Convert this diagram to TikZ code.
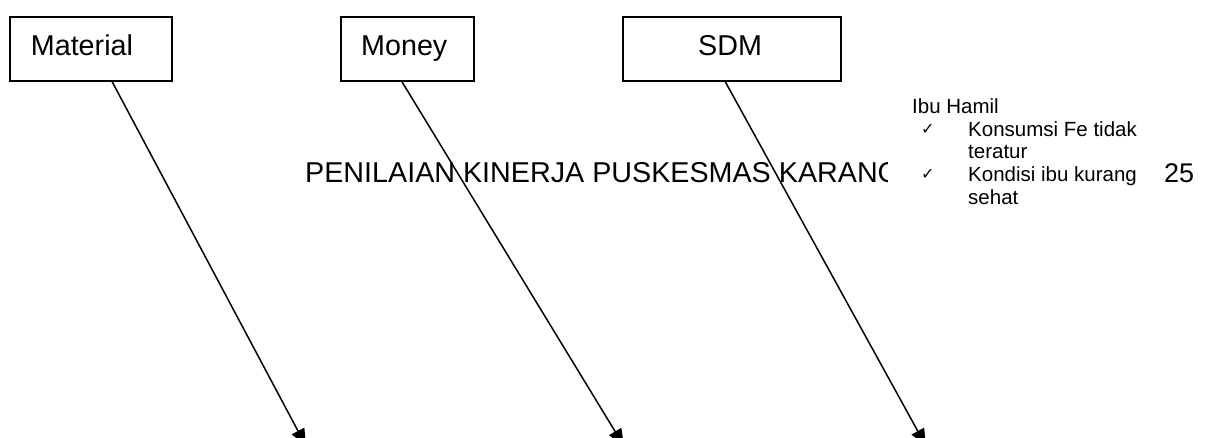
\documentclass[tikz,border=0pt]{standalone}
\usepackage{fontspec}
\setmainfont{Liberation Sans}
\newfontfamily\symfont{DejaVu Sans}
\usetikzlibrary{arrows.meta,calc}
\begin{document}
\begin{tikzpicture}[x=1pt,y=-1pt,
  box/.style={draw,line width=1.8pt,inner sep=0pt,anchor=north west},
  lbl/.style={inner sep=0pt,anchor=base west,font=\fontsize{28.7}{34}\selectfont},
  item/.style={inner sep=0pt,anchor=base west,font=\fontsize{20.5}{24}\selectfont},
  tick/.style={inner sep=0pt,anchor=base west,font=\symfont\fontsize{16}{18}\selectfont},
  arr/.style={line width=1.5pt,-{Triangle[length=17pt,width=14pt]}}]
\useasboundingbox (0,0) rectangle (1215,437);

% source boxes
\node[box,minimum width=162pt,minimum height=64pt] (mat) at (9,16) {};
\node[lbl] (matT) at (30.7,55) {Material};
\node[box,minimum width=133pt,minimum height=64pt] (mon) at (340,16) {};
\node[lbl] (monT) at (361,55) {Money};
\node[box,minimum width=218pt,minimum height=64pt] (sdm) at (622,16) {};
\node[lbl] (sdmT) at (698,55) {SDM};

% page header, cut off by the text box beside it
\begin{scope}
  \clip (0,0) rectangle (887,437);
  \node[lbl] (head) at (305,182) {PENILAIAN KINERJA PUSKESMAS KARANG};
\end{scope}

% note on pregnant mothers
\node[item] (ibu) at (912,113) {Ibu Hamil};
\node[tick] (c1) at (921,134) {✓};
\node[item] (k1) at (968,136) {Konsumsi Fe tidak};
\node[item] (k1b) at (968,158) {teratur};
\node[tick] (c2) at (921,179) {✓};
\node[item] (k2) at (968,181) {Kondisi ibu kurang};
\node[item] (k2b) at (968,204) {sehat};

% page number
\node[lbl,font=\fontsize{27}{32}\selectfont] (pg) at (1164,182) {25};

% arrow ends below the page edge
\coordinate (matEnd) at (306,446);
\coordinate (monEnd) at (624,446);
\coordinate (sdmEnd) at (926,446);

\draw[arr] ($(mat.south west)!0.63!(mat.south east)$) -- (matEnd);
\draw[arr] ($(mon.south west)!0.46!(mon.south east)$) -- (monEnd);
\draw[arr] ($(sdm.south west)!0.47!(sdm.south east)$) -- (sdmEnd);
\end{tikzpicture}
\end{document}
